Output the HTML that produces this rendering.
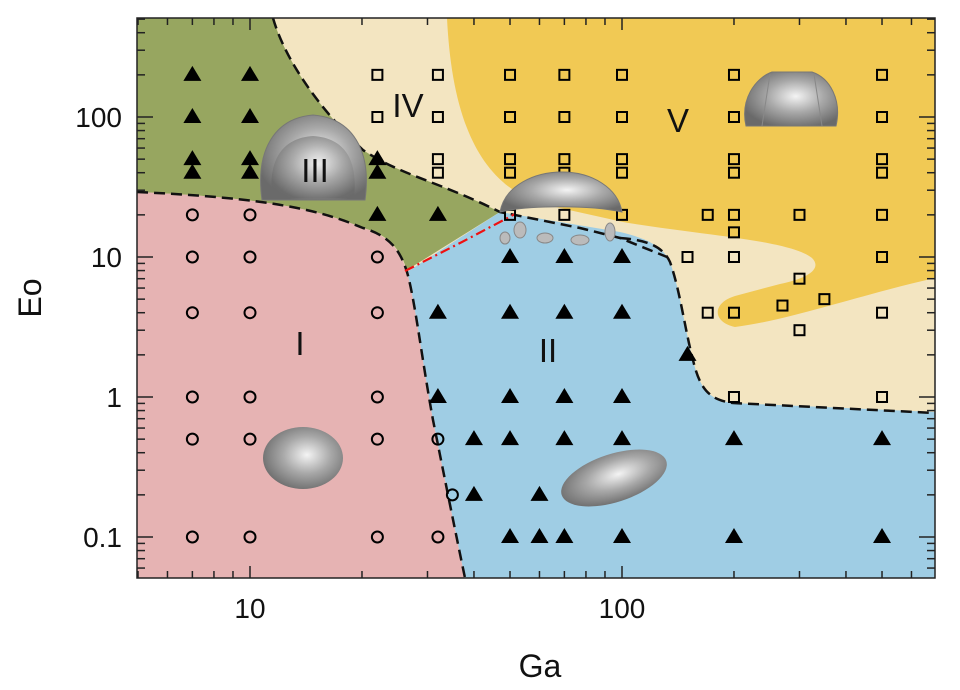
<!DOCTYPE html>
<html><head><meta charset="utf-8"><style>
html,body{margin:0;padding:0;background:#fff;}
svg{display:block;font-family:"Liberation Sans",sans-serif;}
</style></head><body>
<svg id="chart" width="960" height="690" viewBox="0 0 960 690" xmlns="http://www.w3.org/2000/svg">
<defs>
<radialGradient id="gb" cx="0.55" cy="0.45" r="0.6"><stop offset="0" stop-color="#f4f4f4"/><stop offset="0.5" stop-color="#a8a8a8"/><stop offset="1" stop-color="#6a6a6a"/></radialGradient>
<clipPath id="pc"><rect x="137" y="18" width="798" height="560"/></clipPath>
</defs>
<g clip-path="url(#pc)">
<rect x="137" y="18" width="798" height="560" fill="#f3e5c1"/>
<path fill="#f1c954" d="M447,18 C452,120 480,195 560,208 L623,222 C700,235 790,240 812,258 C822,268 810,278 780,284 L735,296 C712,303 712,322 735,327 C790,320 860,295 935,278 L935,18 Z"/>
<path fill="#97a660" d="M137,18 L273,18 C285,60 320,110 363,150 C400,175 440,182 500,212 L407,270 C400,250 390,235 363,228 C320,210 270,198 137,192 Z"/>
<path fill="#e6b3b3" d="M137,192 C270,198 320,210 363,228 C390,236 400,250 407,272 C415,300 422,360 433,420 C445,480 455,530 465,578 L137,578 Z"/>
<path fill="#9fcde4" d="M407,272 L500,212 L620,232 C645,238 662,245 670,262 C680,290 685,330 693,360 C700,390 710,400 733,403 L935,412 L935,578 L465,578 C455,530 445,480 433,420 C422,360 415,300 407,272 Z"/>
<g fill="none" stroke="#111" stroke-width="2.5" stroke-dasharray="11,6">
<path d="M273,18 C285,60 320,110 363,150 C400,175 440,182 500,212 L580,228 L620,238 L667,257"/>
<path d="M137,192 C270,198 320,210 363,228 C390,236 400,250 407,272 C415,300 422,360 433,420 C445,480 455,530 465,578"/>
<path d="M620,238 C645,240 662,245 670,262 C680,290 685,330 693,360 C700,390 710,400 733,403 L935,413"/>
</g>
<path d="M405,271 L462,242 L515,214" fill="none" stroke="#e11" stroke-width="2.2" stroke-dasharray="10,4,2,4"/>
</g>
<g id="marks"></g>
<g>
<path d="M262,200 C255,150 275,118 313,115 C352,118 372,150 365,200 Z" fill="url(#gb)" stroke="#777"/>
<path d="M272,198 C268,160 282,138 313,136 C345,138 358,160 354,198 Z" fill="url(#gb)" opacity="0.8"/>
</g>
<g>
<path d="M500,212 C505,185 535,172 562,172 C592,172 618,188 622,212 C590,205 530,205 500,212 Z" fill="url(#gb)" stroke="#777"/>
<g fill="#bbb" stroke="#888"><ellipse cx="520" cy="230" rx="6" ry="8"/><ellipse cx="545" cy="238" rx="8" ry="5"/><ellipse cx="580" cy="240" rx="9" ry="5"/><ellipse cx="610" cy="232" rx="5" ry="9"/><ellipse cx="505" cy="238" rx="5" ry="6"/></g>
</g>
<g>
<path d="M746,126 C740,100 755,78 772,72 L812,72 C830,78 842,100 836,126 Z" fill="url(#gb)" stroke="#777"/>
<path d="M770,74 L762,126 M814,74 L822,126" stroke="#888" fill="none"/>
</g>
<ellipse cx="303" cy="458" rx="40" ry="31" fill="url(#gb)"/>
<ellipse cx="614" cy="478" rx="55" ry="24" transform="rotate(-18 614 478)" fill="url(#gb)"/>
<g font-size="33" fill="#111" text-anchor="middle">
<text x="315" y="182">III</text>
<text x="408" y="117">IV</text>
<text x="678" y="132">V</text>
<text x="300" y="355">I</text>
<text x="548" y="362">II</text>
</g>
<rect x="137" y="18" width="798" height="560" fill="none" stroke="#222" stroke-width="1.5"/>
<g id="axes"></g>
<text x="540" y="677" font-size="32" text-anchor="middle" fill="#111">Ga</text>
<text x="0" y="0" font-size="32" text-anchor="middle" fill="#111" transform="translate(41,298) rotate(-90)">Eo</text>
</svg>
<script>
const triGa=[7,7,7,7,10,10,10,10,22,22,22,32,32,32,50,50,50,50,50,40,40,60,60,70,70,70,70,70,100,100,100,100,100,150,200,200,500,500];
const triEo=[200,100,50,40,200,100,50,40,50,40,20,20,4,1,10,4,1,0.5,0.1,0.5,0.2,0.2,0.1,10,4,1,0.5,0.1,10,4,1,0.5,0.1,2,0.5,0.1,0.5,0.1];
const cirGa=[7,7,7,7,7,7,10,10,10,10,10,10,22,22,22,22,22,32,32,35];
const cirEo=[20,10,4,1,0.5,0.1,20,10,4,1,0.5,0.1,10,4,1,0.5,0.1,0.5,0.1,0.2];
const sqGa=[22,22,32,32,32,32,50,50,50,50,50,70,70,70,70,70,100,100,100,100,100,150,170,170,200,200,200,200,200,200,200,200,200,300,300,300,270,350,500,500,500,500,500,500,500,500];
const sqEo=[200,100,200,100,50,40,200,100,50,40,20,200,100,50,40,20,200,100,50,40,20,10,20,4,200,100,50,40,20,15,10,4,1,20,7,3,4.5,5,200,100,50,40,20,10,4,1];
const xTickVals=[10,100];
const xTickLabels=["10","100"];
const yTickVals=[100,10,1,0.1];
const yTickLabels=["100","10","1","0.1"];
const NS="http://www.w3.org/2000/svg";
function xs(g){return 250+372*(Math.log10(g)-1);}
function ys(e){return 397-140*Math.log10(e);}
const marks=document.getElementById('marks');
function mk(t,a){const e=document.createElementNS(NS,t);for(const k in a)e.setAttribute(k,a[k]);return e;}
triGa.forEach((g,i)=>{const x=xs(g),y=ys(triEo[i]);
const p=mk('path',{d:`M${x},${y-9}L${x+9},${y+6}L${x-9},${y+6}Z`,fill:'#000'});


marks.appendChild(p);});
cirGa.forEach((g,i)=>{const c=mk('circle',{cx:xs(g),cy:ys(cirEo[i]),r:5.5,fill:'none',stroke:'#000','stroke-width':2});


marks.appendChild(c);});
sqGa.forEach((g,i)=>{const r=mk('rect',{x:xs(g)-5,y:ys(sqEo[i])-5,width:10,height:10,fill:'none',stroke:'#000','stroke-width':2});


marks.appendChild(r);});
const ax=document.getElementById('axes');
for(let d=1;d<=100;d*=10){for(let m=1;m<10;m++){const v=d*m;const x=xs(v);if(x<137||x>935)continue;const L=m===1?12:7;
ax.appendChild(mk('line',{x1:x,x2:x,y1:578,y2:578-L,stroke:'#222','stroke-width':1.5}));
ax.appendChild(mk('line',{x1:x,x2:x,y1:18,y2:18+L,stroke:'#222','stroke-width':1.5}));}}
for(let d=0.01;d<=1000;d*=10){for(let m=1;m<10;m++){const v=d*m;const y=ys(v);if(y<18||y>578)continue;const L=m===1?16:8;
ax.appendChild(mk('line',{x1:137,x2:137+L,y1:y,y2:y,stroke:'#222','stroke-width':1.5}));
ax.appendChild(mk('line',{x1:935,x2:935-L,y1:y,y2:y,stroke:'#222','stroke-width':1.5}));}}
xTickVals.forEach((v,i)=>{const t=mk('text',{x:xs(v),y:618,'font-size':28,'text-anchor':'middle',fill:'#111'});t.textContent=xTickLabels[i];


ax.appendChild(t);});
yTickVals.forEach((v,i)=>{const t=mk('text',{x:122,y:ys(v)+10,'font-size':28,'text-anchor':'end',fill:'#111'});t.textContent=yTickLabels[i];


ax.appendChild(t);});
</script>
</body></html>
